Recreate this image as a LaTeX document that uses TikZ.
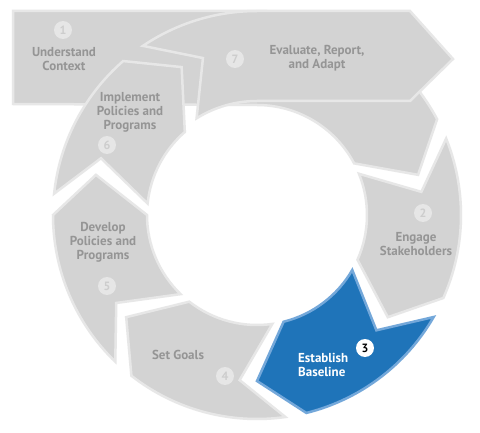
\documentclass[tikz,border=0pt]{standalone}
\usepackage{fontspec}
\setmainfont{PT Sans}
\usetikzlibrary{calc}
\definecolor{segfill}{HTML}{D3D3D3}
\definecolor{segline}{HTML}{E7E7E7}
\definecolor{txtgray}{HTML}{959595}
\definecolor{numfill}{HTML}{E6E6E6}
\definecolor{numtext}{HTML}{CDCDCD}
\definecolor{bluefill}{HTML}{1F74B9}
\definecolor{blueline}{HTML}{74A8DA}
\begin{document}
\begin{tikzpicture}[x=1pt,y=1pt]
\useasboundingbox (0,0) rectangle (480,432);
\fill[white] (0,0) rectangle (480,432);
\coordinate (C) at (257,217);
\def\Ro{204}\def\Ri{110}\def\Rm{166}\def\dd{14}
\tikzset{
  seg/.style={fill=segfill, draw=segline, line width=2.5pt, line join=miter},
  blueseg/.style={fill=bluefill, draw=blueline, line width=2.5pt, line join=miter},
  ringseg/.style 2 args={insert path={
    ($(C)+(#1:\Ro)$) arc[start angle=#1, end angle=#2, radius=\Ro]
    -- ($(C)+({#2-\dd}:\Rm)$) -- ($(C)+(#2:\Ri)$)
    arc[start angle=#2, end angle=#1, radius=\Ri]
    -- ($(C)+({#1-\dd}:\Rm)$) -- cycle}},
  lbl/.style={text=txtgray, font=\bfseries\fontsize{13}{14}\selectfont, align=center, inner sep=0pt},
  numc/.style={circle, fill=numfill, text=numtext, inner sep=0pt, minimum size=18pt, font=\bfseries\fontsize{12}{12}\selectfont}
}
% 1 Understand Context
\draw[seg] (13,421) -- (257,421) arc[start angle=90, end angle=28, radius=\Ro]
  -- ($(C)+(14:\Rm)$) -- ($(C)+(28:\Ri)$) arc[start angle=28, end angle=90, radius=\Ri]
  -- (13,328) -- cycle;
% ring segments
\draw[seg] [ringseg={22}{-24}];
\draw[blueseg] [ringseg={-30}{-76}];
\draw[seg] [ringseg={-82}{-128}];
\draw[seg] [ringseg={-134}{-180}];
\draw[seg] [ringseg={174}{131}];
% 7 Evaluate arrow
\draw[seg] ($(C)+(124:\Ro)$) arc[start angle=124, end angle=90, radius=\Ro]
  -- (410,421) -- (453,373) -- (410,331) -- (257,331)
  arc[start angle=90, end angle=122, radius=114]
  -- ($(C)+(109:\Rm)$) -- cycle;
% labels
\node[lbl] (t1) at (64,373) {Understand\\Context};
\node[lbl] (t7) at (317,374) {Evaluate, Report,\\and Adapt};
\node[lbl] (t6) at (130,320) {Implement\\Policies and\\Programs};
\node[lbl] (t5) at (103,190) {Develop\\Policies and\\Programs};
\node[lbl] (t4) at (178,77) {Set Goals};
\node[lbl, text=white, align=left, anchor=west] (t3) at (298,67) {Establish\\Baseline};
\node[lbl] (t2) at (416,188) {Engage\\Stakeholders};
% numbers
\node[numc] (n1) at (63,402) {1};
\node[numc] (n7) at (235,373) {7};
\node[numc] (n6) at (107,287) {6};
\node[numc] (n5) at (107,146) {5};
\node[numc] (n4) at (225,56) {4};
\node[numc] (n2) at (423,219) {2};
\node[numc, fill=white, text=black] (n3) at (365,84) {3};
\end{tikzpicture}
\end{document}
